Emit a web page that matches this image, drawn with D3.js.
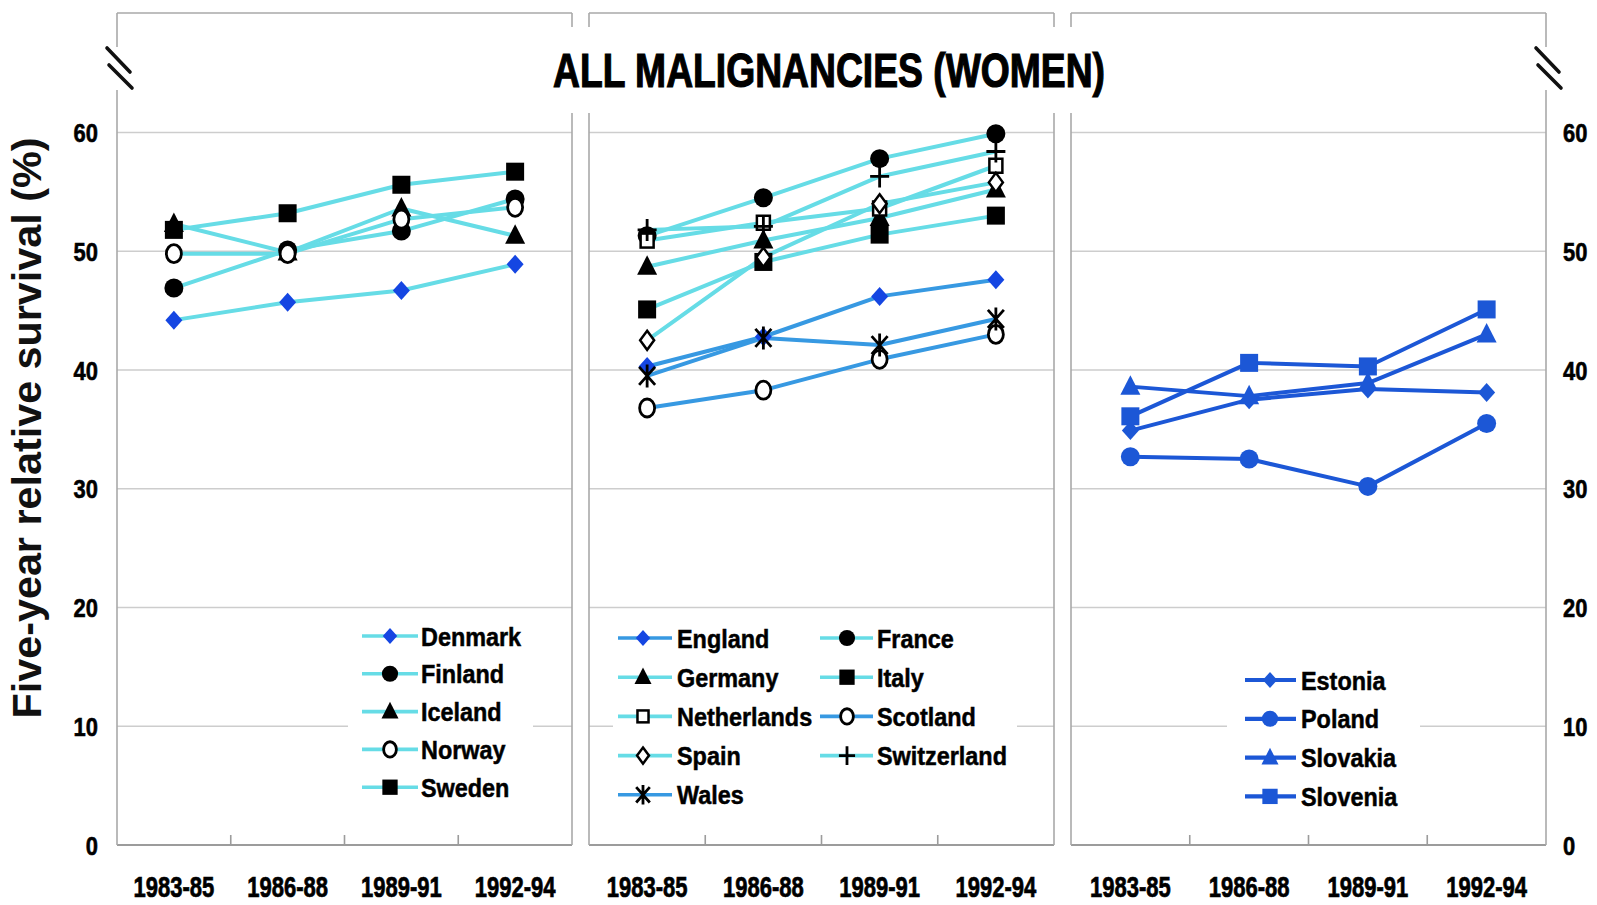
<!DOCTYPE html>
<html>
<head>
<meta charset="utf-8">
<script src="https://cdn.jsdelivr.net/npm/d3@7"></script>
<style>
  html, body { margin: 0; padding: 0; background: #fff; }
  svg { display: block; font-family: "Liberation Sans", Arial, Helvetica, sans-serif; }
</style>
</head>
<body>
<svg id="chart" width="1597" height="905"></svg>
<script>
// ---- data -------------------------------------------------------------
const periods = ["1983-85", "1986-88", "1989-91", "1992-94"];
const yTicks = [0, 10, 20, 30, 40, 50, 60];
const chartTitle = "ALL MALIGNANCIES (WOMEN)";
const yTitle = "Five-year relative survival (%)";

// Northern Europe
const denmark = [44.2, 45.7, 46.7, 48.9];
const finland = [46.9, 50.1, 51.7, 54.4];
const iceland = [52.3, 49.9, 53.6, 51.3];
const norway  = [49.8, 49.8, 52.7, 53.7];
const sweden  = [51.8, 53.2, 55.6, 56.7];

// Western Europe
const england     = [40.3, 42.8, 46.2, 47.6];
const france      = [51.3, 54.5, 57.8, 59.9];
const germany     = [48.7, 50.9, 52.8, 55.2];
const italy       = [45.1, 49.1, 51.4, 53.0];
const netherlands = [50.9, 52.4, 53.6, 57.2];
const scotland    = [36.8, 38.3, 40.9, 43.0];
const spain       = [42.5, 49.5, 54.0, 55.8];
const switzerland = [51.8, 52.1, 56.3, 58.4];
const wales       = [39.5, 42.7, 42.1, 44.3];

// Eastern Europe
const estonia  = [34.9, 37.5, 38.4, 38.1];
const poland   = [32.7, 32.5, 30.2, 35.5];
const slovakia = [38.6, 37.8, 38.9, 43.0];
const slovenia = [36.1, 40.6, 40.3, 45.1];

// ---- styles -----------------------------------------------------------
const CYAN = "#66dce6";
const MID_BLUE = "#3799e2";
const DARK_BLUE = "#1c57d6";
const MARK_BLUE = "#1546e2";
const GRID = "#cdcdcd";
const FRAME = "#a9a9a9";

const panels = [
  {
    x0: 117, x1: 572,
    series: [
      { name: "Denmark", values: denmark, marker: "diamond", color: MARK_BLUE, line: CYAN },
      { name: "Finland", values: finland, marker: "circle", color: "#000", line: CYAN },
      { name: "Iceland", values: iceland, marker: "triangle", color: "#000", line: CYAN },
      { name: "Norway", values: norway, marker: "openCircle", color: "#000", line: CYAN },
      { name: "Sweden", values: sweden, marker: "square", color: "#000", line: CYAN }
    ],
    legend: {
      box: [348, 614, 533, 810], y0: 636, step: 37.8,
      cols: [{ l0: 362, l1: 418, m: 390, t: 421, items: ["Denmark", "Finland", "Iceland", "Norway", "Sweden"] }]
    }
  },
  {
    x0: 589, x1: 1054,
    series: [
      { name: "England", values: england, marker: "diamond", color: MARK_BLUE, line: MID_BLUE },
      { name: "France", values: france, marker: "circle", color: "#000", line: CYAN },
      { name: "Germany", values: germany, marker: "triangle", color: "#000", line: CYAN },
      { name: "Italy", values: italy, marker: "square", color: "#000", line: CYAN },
      { name: "Netherlands", values: netherlands, marker: "openSquare", color: "#000", line: CYAN },
      { name: "Scotland", values: scotland, marker: "openCircle", color: "#000", line: MID_BLUE },
      { name: "Spain", values: spain, marker: "openDiamond", color: "#000", line: CYAN },
      { name: "Switzerland", values: switzerland, marker: "plus", color: "#000", line: CYAN },
      { name: "Wales", values: wales, marker: "asterisk", color: "#000", line: MID_BLUE }
    ],
    legend: {
      box: [613, 614, 1017, 812], y0: 638, step: 39.2,
      cols: [
        { l0: 618, l1: 672, m: 643, t: 677, items: ["England", "Germany", "Netherlands", "Spain", "Wales"] },
        { l0: 820, l1: 873, m: 847, t: 877, items: ["France", "Italy", "Scotland", "Switzerland"] }
      ]
    }
  },
  {
    x0: 1071, x1: 1546,
    series: [
      { name: "Estonia", values: estonia, marker: "diamond", color: DARK_BLUE, line: DARK_BLUE },
      { name: "Poland", values: poland, marker: "circle", color: DARK_BLUE, line: DARK_BLUE },
      { name: "Slovakia", values: slovakia, marker: "triangle", color: DARK_BLUE, line: DARK_BLUE },
      { name: "Slovenia", values: slovenia, marker: "square", color: DARK_BLUE, line: DARK_BLUE }
    ],
    legend: {
      box: [1227, 655, 1420, 815], y0: 680, step: 38.8,
      cols: [{ l0: 1245, l1: 1296, m: 1270, t: 1301, items: ["Estonia", "Poland", "Slovakia", "Slovenia"] }]
    }
  }
];

// ---- drawing ----------------------------------------------------------
const svg = d3.select("#chart");
const yScale = d3.scaleLinear().domain([0, 60]).range([845, 132.5]);
const TOP = 13;

function drawMarker(g, type, color, k) {
  switch (type) {
    case "diamond":
      g.append("path").attr("d", `M0,${-9.5 * k}L${8.5 * k},0L0,${9.5 * k}L${-8.5 * k},0Z`).attr("fill", color);
      break;
    case "circle":
      g.append("circle").attr("r", 9.5 * k).attr("fill", color);
      break;
    case "triangle":
      g.append("path").attr("d", `M0,${-11.5 * k}L${10 * k},${8 * k}L${-10 * k},${8 * k}Z`).attr("fill", color);
      break;
    case "square":
      g.append("rect").attr("x", -9 * k).attr("y", -9 * k).attr("width", 18 * k).attr("height", 18 * k).attr("fill", color);
      break;
    case "openCircle":
      g.append("ellipse").attr("rx", 7.5 * k).attr("ry", 9 * k).attr("fill", "#fff").attr("stroke", color).attr("stroke-width", 2.8);
      break;
    case "openSquare":
      g.append("rect").attr("x", -6.5 * k).attr("y", -7 * k).attr("width", 13 * k).attr("height", 14 * k).attr("fill", "#fff").attr("stroke", color).attr("stroke-width", 2.5);
      break;
    case "openDiamond":
      g.append("path").attr("d", `M0,${-9.5 * k}L${7 * k},0L0,${9.5 * k}L${-7 * k},0Z`).attr("fill", "#fff").attr("stroke", color).attr("stroke-width", 2.5);
      break;
    case "plus":
      g.append("path").attr("d", `M${-9.5 * k},0H${9.5 * k}M0,${-11 * k}V${11 * k}`).attr("stroke", color).attr("stroke-width", 2.8).attr("fill", "none");
      break;
    case "asterisk":
      g.append("path").attr("d", `M${-8 * k},${-9 * k}L${8 * k},${9 * k}M${8 * k},${-9 * k}L${-8 * k},${9 * k}M0,${-11.5 * k}V${11.5 * k}`)
        .attr("stroke", color).attr("stroke-width", 2.8).attr("fill", "none");
      break;
  }
}

function vline(x, y0, y1, color, w) {
  svg.append("line").attr("x1", x).attr("x2", x).attr("y1", y0).attr("y2", y1)
    .attr("stroke", color).attr("stroke-width", w);
}

// heavy label text: bold face with a thin outline of the same colour
function heavy(sel, w) {
  return sel.attr("font-weight", "bold").attr("fill", "#000")
    .attr("stroke", "#000").attr("stroke-width", w).attr("paint-order", "stroke");
}

panels.forEach((p, pi) => {
  const x = d3.scaleBand().domain(periods).range([p.x0, p.x1]).padding(0);
  const cx = d => x(d) + x.bandwidth() / 2;
  const g = svg.append("g");

  // gridlines
  g.selectAll("line.grid").data(yTicks.filter(t => t > 0)).join("line")
    .attr("class", "grid")
    .attr("x1", p.x0).attr("x2", p.x1)
    .attr("y1", d => yScale(d)).attr("y2", d => yScale(d))
    .attr("stroke", GRID).attr("stroke-width", 1.6);

  // frame: top edge, sides (broken where the title sits)
  g.append("line").attr("x1", p.x0).attr("x2", p.x1).attr("y1", TOP).attr("y2", TOP)
    .attr("stroke", FRAME).attr("stroke-width", 1.6);
  [[p.x0, pi === 0], [p.x1, pi === panels.length - 1]].forEach(([xe, outer]) => {
    if (outer) {
      vline(xe, TOP, 47, FRAME, 1.6);
      vline(xe, 90, yScale(0), FRAME, 1.6);
    } else {
      vline(xe, TOP, 27, FRAME, 1.6);
      vline(xe, 113, yScale(0), FRAME, 1.6);
    }
  });

  // baseline and category separators
  g.append("line").attr("x1", p.x0).attr("x2", p.x1).attr("y1", yScale(0)).attr("y2", yScale(0))
    .attr("stroke", "#9c9c9c").attr("stroke-width", 2);
  g.selectAll("line.sep").data(periods.slice(1)).join("line")
    .attr("class", "sep")
    .attr("x1", d => x(d)).attr("x2", d => x(d))
    .attr("y1", yScale(0)).attr("y2", yScale(0) - 10)
    .attr("stroke", "#9c9c9c").attr("stroke-width", 1.6);

  // category labels
  const ax = g.append("g").attr("transform", `translate(0,${yScale(0)})`)
    .call(d3.axisBottom(x).tickSize(0));
  ax.select(".domain").remove();
  heavy(ax.selectAll("text")
    .attr("x", 0).attr("y", 52).attr("dy", null)
    .attr("transform", "scale(0.76,1)")
    .attr("font-size", 29)
    .attr("font-family", "'Liberation Sans', Arial, sans-serif"), 0.7);

  // legend backdrop
  const b = p.legend.box;
  g.append("rect").attr("x", b[0]).attr("y", b[1]).attr("width", b[2] - b[0]).attr("height", b[3] - b[1]).attr("fill", "#fff");

  // series lines
  const line = d3.line().x((v, i) => cx(periods[i])).y(v => yScale(v));
  p.series.forEach(s => {
    g.append("path").attr("d", line(s.values)).attr("fill", "none")
      .attr("stroke", s.line).attr("stroke-width", 4).attr("stroke-linejoin", "round");
  });
  // series markers
  p.series.forEach(s => {
    s.values.forEach((v, i) => {
      const m = g.append("g").attr("transform", `translate(${cx(periods[i])},${yScale(v)})`);
      drawMarker(m, s.marker, s.color, 1);
    });
  });

  // legend entries
  const byName = new Map(p.series.map(s => [s.name, s]));
  p.legend.cols.forEach(col => {
    col.items.forEach((name, r) => {
      const s = byName.get(name);
      const ry = p.legend.y0 + r * p.legend.step;
      g.append("line").attr("x1", col.l0).attr("x2", col.l1).attr("y1", ry).attr("y2", ry)
        .attr("stroke", s.line).attr("stroke-width", pi === 2 ? 4.2 : 3.6);
      const m = g.append("g").attr("transform", `translate(${col.m},${ry})`);
      drawMarker(m, s.marker, s.color, 0.85);
      heavy(g.append("text").attr("transform", `translate(${col.t},${ry + 9.5}) scale(0.9,1)`)
        .attr("font-size", 26)
        .text(name), 0.5);
    });
  });
});

// value axes on both outer sides
const left = svg.append("g").attr("transform", `translate(${panels[0].x0},0)`)
  .call(d3.axisLeft(yScale).tickValues(yTicks).tickSize(0));
left.select(".domain").remove();
heavy(left.selectAll("text").attr("x", 0).attr("dy", "0.36em")
  .attr("transform", "translate(-19,0) scale(0.86,1)")
  .attr("font-size", 25.5)
  .attr("font-family", "'Liberation Sans', Arial, sans-serif"), 0.6);

const right = svg.append("g").attr("transform", `translate(${panels[2].x1},0)`)
  .call(d3.axisRight(yScale).tickValues(yTicks).tickSize(0));
right.select(".domain").remove();
heavy(right.selectAll("text").attr("x", 0).attr("dy", "0.36em")
  .attr("transform", "translate(17,0) scale(0.86,1)")
  .attr("font-size", 25.5)
  .attr("font-family", "'Liberation Sans', Arial, sans-serif"), 0.6);

// axis break marks on the outer edges
[panels[0].x0, panels[2].x1].forEach(xe => {
  svg.append("path")
    .attr("d", `M${xe - 10},48L${xe + 13},72M${xe - 8},65L${xe + 15},88`)
    .attr("stroke", "#111").attr("stroke-width", 3.6).attr("stroke-linecap", "round").attr("fill", "none");
});

// titles
heavy(svg.append("text").attr("x", 829).attr("y", 87).attr("text-anchor", "middle")
  .attr("font-size", 47.5)
  .attr("textLength", 552).attr("lengthAdjust", "spacingAndGlyphs")
  .text(chartTitle), 1.2);

svg.append("text").attr("transform", "translate(41,428) rotate(-90)")
  .attr("text-anchor", "middle")
  .attr("font-size", 40).attr("font-weight", "bold").attr("fill", "#111")
  .attr("textLength", 581).attr("lengthAdjust", "spacingAndGlyphs")
  .text(yTitle);
</script>
</body>
</html>
